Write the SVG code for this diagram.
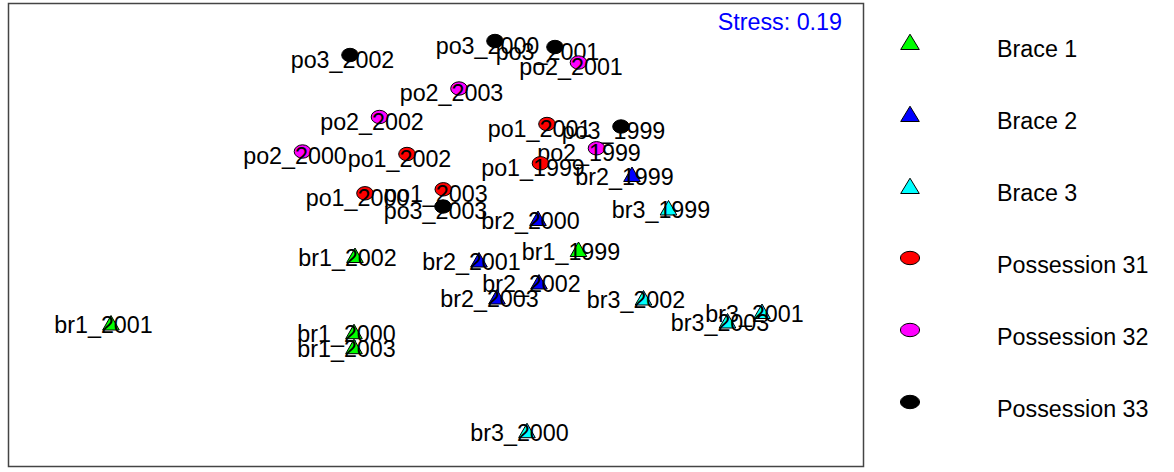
<svg xmlns="http://www.w3.org/2000/svg" xmlns:xlink="http://www.w3.org/1999/xlink" width="1174" height="472" viewBox="0 0 1174 472">
<style>
text{font-family:"Liberation Sans",Arial,sans-serif;font-size:23.3px;fill:#000}
.lab{text-anchor:middle}
.m{stroke:#000;stroke-width:1}
.g{fill:#00FF00}.b{fill:#0000FF}.c{fill:#00FFFF}.r{fill:#FF0000}.p{fill:#FF00FF}.k{fill:#000000}
.stress{fill:#0000FF;text-anchor:end}
</style>
<defs>
<path id="tri" d="M0,-7.5 L8.3,7 L-8.3,7 Z"/>
<ellipse id="dot" cx="0" cy="0" rx="8.3" ry="6.7"/>
<path id="ltri" d="M0,-7.8 L9.3,7.5 L-9.3,7.5 Z"/>
<ellipse id="ldot" cx="0" cy="0" rx="9.6" ry="6.7"/>
</defs>
<rect width="1174" height="472" fill="#fff"/>
<g id="frame"><rect x="8.5" y="3.5" width="855" height="463" fill="none" stroke="#444" stroke-width="1.5"/></g>
<text id="stress" class="stress" x="842" y="30">Stress: 0.19</text>
<g id="connectors"></g>

<g id="po3_2002"><use href="#dot" class="m k" x="350" y="55"/><text class="lab" x="342.5" y="67.5">po3_2002</text></g>
<g id="po3_2000"><use href="#dot" class="m k" x="495" y="41"/><text class="lab" x="487.5" y="53.5">po3_2000</text></g>
<g id="po3_2001"><use href="#dot" class="m k" x="555" y="47"/><text class="lab" x="547.5" y="59.5">po3_2001</text></g>
<g id="po2_2001"><use href="#dot" class="m p" x="578.5" y="62.5"/><text class="lab" x="571" y="75">po2_2001</text></g>
<g id="po2_2003"><use href="#dot" class="m p" x="459" y="88.5"/><text class="lab" x="451.5" y="101">po2_2003</text></g>
<g id="po2_2002"><use href="#dot" class="m p" x="379.5" y="117"/><text class="lab" x="372" y="129.5">po2_2002</text></g>
<g id="po1_2001"><use href="#dot" class="m r" x="547" y="124"/><text class="lab" x="539.5" y="136.5">po1_2001</text></g>
<g id="po3_1999"><use href="#dot" class="m k" x="621" y="126.5"/><text class="lab" x="613.5" y="139">po3_1999</text></g>
<g id="po2_1999"><use href="#dot" class="m p" x="596.5" y="148.3"/><text class="lab" x="589" y="160.8">po2_1999</text></g>
<g id="po2_2000"><use href="#dot" class="m p" x="302.5" y="151.5"/><text class="lab" x="295" y="164">po2_2000</text></g>
<g id="po1_2002"><use href="#dot" class="m r" x="407" y="154"/><text class="lab" x="399.5" y="166.5">po1_2002</text></g>
<g id="po1_1999"><use href="#dot" class="m r" x="540.5" y="163.3"/><text class="lab" x="533" y="175.8">po1_1999</text></g>
<g id="po1_2000"><use href="#dot" class="m r" x="365" y="193.3"/><text class="lab" x="357.5" y="205.8">po1_2000</text></g>
<g id="po1_2003"><use href="#dot" class="m r" x="443.3" y="189.3"/><text class="lab" x="435.8" y="201.8">po1_2003</text></g>
<g id="po3_2003"><use href="#dot" class="m k" x="443" y="206.5"/><text class="lab" x="435.5" y="219">po3_2003</text></g>

<g id="br2_1999"><use href="#tri" class="m b" x="632" y="174.5"/><text class="lab" x="624.5" y="184.5">br2_1999</text></g>
<g id="br3_1999"><use href="#tri" class="m c" x="668.5" y="208"/><text class="lab" x="661" y="218">br3_1999</text></g>
<g id="br2_2000"><use href="#tri" class="m b" x="538" y="218.5"/><text class="lab" x="530.5" y="228.5">br2_2000</text></g>
<g id="br1_1999"><use href="#tri" class="m g" x="578.5" y="249.5"/><text class="lab" x="571" y="259.5">br1_1999</text></g>
<g id="br1_2002"><use href="#tri" class="m g" x="355" y="255.5"/><text class="lab" x="347.5" y="265.5">br1_2002</text></g>
<g id="br2_2001"><use href="#tri" class="m b" x="479" y="260"/><text class="lab" x="471.5" y="270">br2_2001</text></g>
<g id="br2_2002"><use href="#tri" class="m b" x="539" y="282"/><text class="lab" x="531.5" y="292">br2_2002</text></g>
<g id="br2_2003"><use href="#tri" class="m b" x="497" y="297"/><text class="lab" x="489.5" y="307">br2_2003</text></g>
<g id="br3_2002"><use href="#tri" class="m c" x="643.5" y="298"/><text class="lab" x="636" y="308">br3_2002</text></g>
<g id="br3_2001"><use href="#tri" class="m c" x="762" y="311.5"/><text class="lab" x="754.5" y="321.5">br3_2001</text></g>
<g id="br3_2003"><use href="#tri" class="m c" x="727.5" y="321"/><text class="lab" x="720" y="331">br3_2003</text></g>
<g id="br1_2001"><use href="#tri" class="m g" x="111" y="323"/><text class="lab" x="103.5" y="333">br1_2001</text></g>
<g id="br1_2000"><use href="#tri" class="m g" x="354" y="331.7"/><text class="lab" x="346.5" y="341.7">br1_2000</text></g>
<g id="br1_2003"><use href="#tri" class="m g" x="354" y="346.7"/><text class="lab" x="346.5" y="356.7">br1_2003</text></g>
<g id="br3_2000"><use href="#tri" class="m c" x="527" y="430.7"/><text class="lab" x="519.5" y="440.7">br3_2000</text></g>

<g id="legend">
<g id="leg_brace1"><use href="#ltri" class="m g" x="910" y="42"/><text x="997" y="57">Brace 1</text></g>
<g id="leg_brace2"><use href="#ltri" class="m b" x="910" y="114"/><text x="997" y="129">Brace 2</text></g>
<g id="leg_brace3"><use href="#ltri" class="m c" x="910" y="186"/><text x="997" y="201">Brace 3</text></g>
<g id="leg_pos31"><use href="#ldot" class="m r" x="910" y="258"/><text x="997" y="273">Possession 31</text></g>
<g id="leg_pos32"><use href="#ldot" class="m p" x="910" y="330"/><text x="997" y="345">Possession 32</text></g>
<g id="leg_pos33"><use href="#ldot" class="m k" x="910" y="402"/><text x="997" y="417">Possession 33</text></g>
</g>
</svg>
